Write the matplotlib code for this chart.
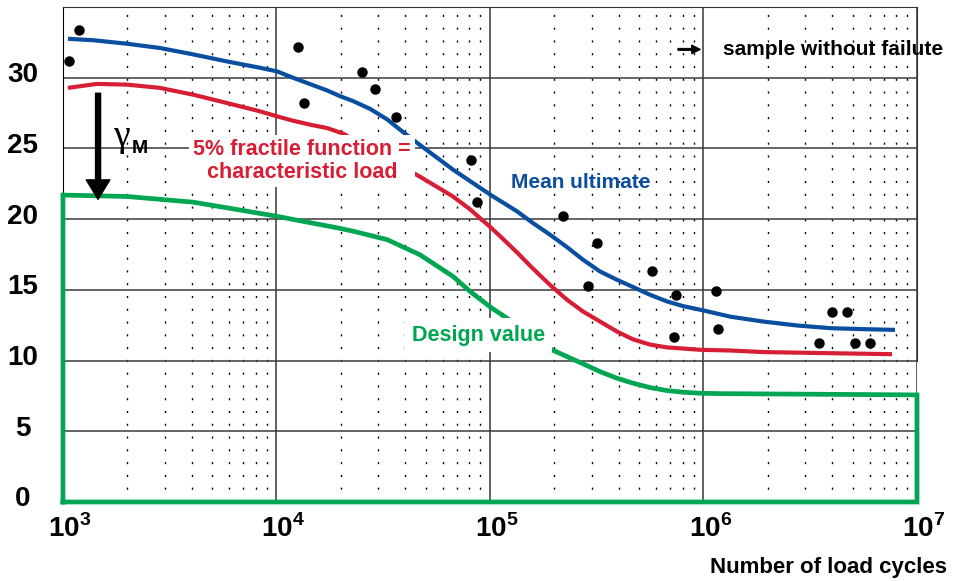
import matplotlib
matplotlib.use('Agg')
import matplotlib.pyplot as plt
from matplotlib import transforms
from matplotlib.ticker import LogLocator, NullFormatter

plt.rcParams['font.family'] = ['Liberation Sans', 'DejaVu Sans']
plt.rcParams['mathtext.fontset'] = 'custom'
plt.rcParams['mathtext.rm'] = 'Liberation Sans:bold'
plt.rcParams['mathtext.bf'] = 'Liberation Sans:bold'

BLUE  = '#0a4f9f'
RED   = '#d81e34'
GREEN = '#00a652'

# test results (load cycles, load)
sample_cycles = [1072, 1189, 12590, 13490, 25120, 28840, 36310, 81280, 87100,
                 218800, 316200, 288400, 575400, 741300, 724400, 1148000, 1175000,
                 3467000, 3981000, 4677000, 5129000, 6026000]
sample_load = [31.2, 33.4, 32.2, 28.2, 30.4, 29.2, 27.2, 24.2, 21.2,
               20.2, 18.3, 15.3, 16.3, 14.6, 11.7, 14.9, 12.2,
               11.25, 13.4, 13.4, 11.25, 11.25]

# mean ultimate curve
mean_cycles = [1055, 1382, 1995, 2845, 4064, 5861, 8375, 10040, 11940, 14350,
               17260, 19800, 22800, 27400, 33000, 39200, 45500, 67100, 101000, 111400,
               133800, 159000, 191000, 229500, 272700, 327500, 393400, 467500, 561600,
               674500, 801700, 995000, 1.338e6, 1.90e6, 2.742e6, 3.92e6, 5.585e6, 7.89e6]
mean_load = [32.75, 32.65, 32.4, 32.1, 31.65, 31.15, 30.7, 30.45, 30.0, 29.55,
             29.1, 28.7, 28.35, 27.8, 27.05, 26.15, 25.4, 23.5, 21.7, 21.3,
             20.55, 19.72, 18.9, 18.02, 17.13, 16.3, 15.71, 15.2, 14.65,
             14.18, 13.85, 13.55, 13.1, 12.76, 12.48, 12.29, 12.22, 12.17]

# 5% fractile curve
frac_cycles = [1055, 1442, 1995, 2845, 4064, 5861, 8375, 10040, 11940, 14350,
               17260, 20490, 46990, 67100, 80500, 101000, 111400, 133800, 159000,
               191000, 229500, 272700, 327500, 393400, 467500, 561600, 674500,
               801700, 964000, 1.338e6, 1.90e6, 3.92e6, 7.64e6]
frac_load = [29.28, 29.56, 29.51, 29.28, 28.8, 28.21, 27.62, 27.27, 26.96, 26.68,
             26.44, 26.05, 23.0, 21.6, 20.7, 19.4, 18.8, 17.65, 16.5,
             15.35, 14.3, 13.47, 12.76, 12.05, 11.5, 11.13, 10.93,
             10.85, 10.76, 10.71, 10.6, 10.52, 10.45]

# design value (closed outline)
design_cycles = [1000, 1000, 1995, 4064, 5861, 10040, 14350, 19800, 22800, 33000,
                 46990, 67100, 80500, 101000, 120000, 195000, 229500, 272700, 327500,
                 393400, 467500, 561600, 674500, 801700, 964000, 1.194e6, 3.26e6,
                 1e7, 1e7, 1000]
design_load = [0, 21.7, 21.6, 21.2, 20.8, 20.2, 19.75, 19.35, 19.15, 18.55,
               17.48, 15.95, 14.9, 13.75, 13.0, 10.76, 10.28, 9.77, 9.22,
               8.75, 8.4, 8.09, 7.88, 7.76, 7.69, 7.66, 7.62,
               7.57, 0, 0]

y_ticks = [0, 5, 10, 15, 20, 25, 30]
x_ticks = [1e3, 1e4, 1e5, 1e6, 1e7]
x_labels = [r'$10^{3}$', r'$10^{4}$', r'$10^{5}$', r'$10^{6}$', r'$10^{7}$']

fig = plt.figure(figsize=(9.6, 5.81), dpi=100)
ax = fig.add_axes([0.0656, 0.136, 0.8896, 0.852])

ax.set_xscale('log')
ax.set_xlim(1e3, 1e7)
ax.set_ylim(0, 35)
ax.set_axisbelow(True)

ax.xaxis.set_minor_locator(LogLocator(base=10, subs=range(2, 10)))
ax.xaxis.set_minor_formatter(NullFormatter())
ax.grid(which='major', axis='y', color='#3a3a3a', lw=1.1)
ax.grid(which='major', axis='x', color='#555555', lw=1.3)
ax.grid(which='minor', axis='x', color='black', lw=1.0, linestyle=(0, (1.5, 7.7)))

ax.set_yticks(y_ticks)
ax.set_yticklabels([str(v) for v in y_ticks], fontsize=20, fontweight='bold', ha='center')
ax.set_xticks(x_ticks)
ax.set_xticklabels(x_labels, fontsize=20)
ax.tick_params(axis='y', length=0, pad=29)
ax.tick_params(axis='x', which='both', length=0, pad=9)

dy = transforms.ScaledTranslation(0, 4 / 72, fig.dpi_scale_trans)
for lab in ax.get_yticklabels():
    lab.set_transform(lab.get_transform() + dy)
dx = transforms.ScaledTranslation(5 / 72, 0, fig.dpi_scale_trans)
for lab in ax.get_xticklabels():
    lab.set_transform(lab.get_transform() + dx)

ax.spines['left'].set_color('black')
ax.spines['top'].set_color('#333333')
ax.spines['right'].set_color('#333333')
ax.spines['right'].set_bounds(10, 35)
ax.spines['bottom'].set_visible(False)

ax.plot(design_cycles, design_load, color=GREEN, lw=3.4, zorder=3, clip_on=False,
        solid_joinstyle='miter')
ax.plot(frac_cycles, frac_load, color=RED, lw=3.0, zorder=3, solid_capstyle='butt')
ax.plot(mean_cycles, mean_load, color=BLUE, lw=3.0, zorder=3, solid_capstyle='butt')
ax.plot(sample_cycles, sample_load, 'o', color='black', ms=6.5, zorder=4)

ax.text(1.32e4, 24.1, '5% fractile function =\ncharacteristic load', color=RED,
        fontsize=15.5, fontweight='bold', ha='center', va='center', linespacing=1.15,
        zorder=5, bbox=dict(facecolor='white', edgecolor='none', pad=3))
ax.text(2.67e5, 22.6, 'Mean ultimate', color=BLUE, fontsize=15, fontweight='bold',
        ha='center', va='center', zorder=5)
ax.text(8.87e4, 11.8, 'Design value', color=GREEN, fontsize=15.5, fontweight='bold',
        ha='center', va='center', zorder=5,
        bbox=dict(facecolor='white', edgecolor='none', pad=5))

# partial safety factor arrow
ax.annotate('', xy=(1460, 21.4), xytext=(1460, 28.9),
            arrowprops=dict(width=3.6, headwidth=17, headlength=14, color='black'),
            zorder=5)
ax.text(1880, 25.8, 'γ', fontsize=27, family='Liberation Serif', ha='center', va='center')
ax.text(2280, 25.0, 'M', fontsize=14, fontweight='bold', ha='center', va='center')

ax.annotate('', xy=(964000, 32.0), xytext=(760000, 32.0),
            arrowprops=dict(width=1.2, headwidth=6, headlength=6, color='black'))
ax.text(1.233e6, 32.0, 'sample without failute', fontsize=15, fontweight='bold',
        ha='left', va='center', zorder=5)

fig.text(947 / 960, 1 - 568 / 581, 'Number of load cycles', fontsize=16,
         fontweight='bold', ha='right', va='center')

fig.savefig('out.png', dpi=100)
